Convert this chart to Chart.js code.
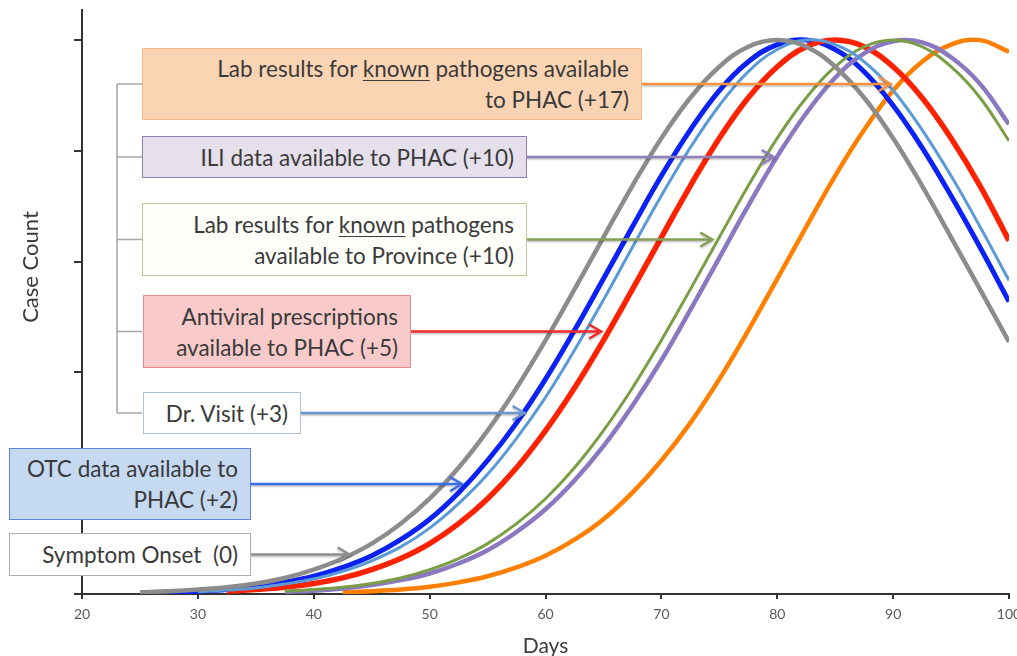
<!DOCTYPE html>
<html>
<head>
<meta charset="utf-8">
<script src="https://cdn.jsdelivr.net/npm/chart.js@4.4.0/dist/chart.umd.min.js"></script>
<style>
html, body { margin: 0; padding: 0; background: #fff; overflow: hidden; }
#wrap { position: relative; width: 1017px; height: 656px; overflow: hidden; }
#holder { position: absolute; left: 0; top: 0; width: 1040px; height: 656px; }
.note {
	position: absolute; box-sizing: border-box;
	display: flex; align-items: center; justify-content: flex-end;
	padding-right: 12px; white-space: nowrap;
	font-family: Lato, "Open Sans", sans-serif; font-size: 22.5px; line-height: 31px; color: #3a3a3a;
	border-style: solid; border-width: 1.5px;
}
.note span { display: block; text-align: right; }
.note u { text-decoration-thickness: 1px; text-underline-offset: 3px; }
#ytitle {
	position: absolute; left: -70px; top: 254px; width: 200px; height: 26px;
	text-align: center; transform: rotate(-90deg);
	font-family: Lato, "Open Sans", sans-serif; font-size: 22px; line-height: 26px; color: #3a3a3a;
}
</style>
</head>
<body>
<div id="wrap">
	<div id="holder"><canvas id="chart"></canvas></div>
	<div id="ytitle">Case Count</div>
</div>
<script>
// days on the x axis (step 2.5)
var days = [25, 27.5, 30, 32.5, 35, 37.5, 40, 42.5, 45, 47.5, 50, 52.5, 55, 57.5, 60, 62.5,
	65, 67.5, 70, 72.5, 75, 77.5, 80, 82.5, 85, 87.5, 90, 92.5, 95, 97.5, 100];
var xTicks = [20, 30, 40, 50, 60, 70, 80, 90, 100];

// case counts (peak = 100)
var onset = [0.3, 0.5, 0.8, 1.2, 1.9, 2.9, 4.4, 6.4, 9.1, 12.7, 17.2, 22.8, 29.5, 37.2, 45.8, 55.0,
	64.4, 73.7, 82.3, 89.6, 95.2, 98.8, 100, 98.8, 95.2, 89.6, 82.3, 73.7, 64.4, 55.0, 45.5];
var otc = [null, 0.3, 0.5, 0.8, 1.3, 2.1, 3.2, 4.8, 6.9, 9.8, 13.5, 18.3, 24.1, 30.9, 38.8, 47.6,
	56.9, 66.3, 75.5, 83.8, 90.9, 96.1, 99.2, 100, 98.3, 94.3, 88.2, 80.6, 71.9, 62.6, 52.8];
var drVisit = [null, null, 0.4, 0.7, 1.1, 1.8, 2.7, 4.1, 6.0, 8.5, 11.9, 16.3, 21.6, 28.1, 35.5, 44.0,
	53.1, 62.6, 71.9, 80.6, 88.2, 94.3, 98.3, 100, 99.2, 96.1, 90.9, 83.8, 75.5, 66.3, 56.6];
var antiviral = [null, null, null, 0.5, 0.8, 1.2, 1.9, 2.9, 4.4, 6.4, 9.1, 12.7, 17.2, 22.8, 29.5, 37.2,
	45.8, 55.0, 64.4, 73.7, 82.3, 89.6, 95.2, 98.8, 100, 98.8, 95.2, 89.6, 82.3, 73.7, 63.8];
var labProvince = [null, null, null, null, null, 0.5, 0.8, 1.2, 1.9, 2.9, 4.4, 6.4, 9.1, 12.7, 17.2, 22.8,
	29.5, 37.2, 45.8, 55.0, 64.4, 73.7, 82.3, 89.6, 95.2, 98.8, 100, 98.8, 95.2, 89.6, 81.8];
var ili = [null, null, null, null, null, 0.4, 0.6, 1.0, 1.6, 2.5, 3.7, 5.5, 7.9, 11.2, 15.3, 20.5,
	26.7, 34.0, 42.2, 51.3, 60.7, 70.1, 79.0, 86.8, 93.2, 97.6, 99.8, 99.6, 96.9, 92.1, 84.8];
var labPhac = [null, null, null, null, null, null, null, 0.3, 0.5, 0.8, 1.3, 2.1, 3.2, 4.8, 6.9, 9.8,
	13.5, 18.3, 24.1, 30.9, 38.8, 47.6, 56.9, 66.3, 75.5, 83.8, 90.9, 96.1, 99.2, 100, 97.9];

// label boxes, arrow tip given as a day on the x axis
var notes = [
	{ html: 'Lab results for <u>known</u> pathogens available<br>to PHAC (+17)', x: 142, y: 48, w: 500, h: 72,
		fill: '#fbd4b4', line: '#f2b58a', arrow: '#f59240', tip: 89.8, bracket: true },
	{ html: 'ILI data available to PHAC (+10)', x: 142, y: 136, w: 385, h: 42,
		fill: '#e5e0ec', line: '#8f80b5', arrow: '#9080bb', tip: 79.7, bracket: true },
	{ html: 'Lab results for <u>known</u> pathogens<br>available to Province (+10)', x: 142, y: 203, w: 385, h: 73,
		fill: '#fefefa', line: '#c9c29c', arrow: '#86a058', tip: 74.4, bracket: true },
	{ html: 'Antiviral prescriptions<br>available to PHAC (+5)', x: 143, y: 295, w: 268, h: 73,
		fill: '#f9caca', line: '#ec8a8a', arrow: '#f22a2a', tip: 64.8, bracket: true },
	{ html: 'Dr. Visit (+3)', x: 143, y: 392, w: 158, h: 42,
		fill: '#ffffff', line: '#a9c0e0', arrow: '#6a95d0', tip: 58.2, bracket: true },
	{ html: 'OTC data available to<br>PHAC (+2)', x: 9, y: 448, w: 242, h: 72,
		fill: '#c5d9f1', line: '#5b84e0', arrow: '#3c6ee6', tip: 52.8 },
	{ html: 'Symptom Onset&nbsp; (0)', x: 9, y: 533, w: 242, h: 43,
		fill: '#ffffff', line: '#b0b0b0', arrow: '#8f8f8f', tip: 43.1 }
];

var wrap = document.getElementById('wrap');
notes.forEach(function(n) {
	var d = document.createElement('div');
	d.className = 'note';
	d.innerHTML = '<span>' + n.html + '</span>';
	d.style.left = n.x + 'px';
	d.style.top = n.y + 'px';
	d.style.width = n.w + 'px';
	d.style.height = n.h + 'px';
	d.style.background = n.fill;
	d.style.borderColor = n.line;
	wrap.appendChild(d);
});

function points(vals) {
	return days.map(function(d, i) { return { x: d, y: vals[i] }; });
}

function series(label, vals, color, width) {
	return {
		label: label,
		data: points(vals),
		borderColor: color,
		borderWidth: width,
		pointRadius: 0,
		tension: 0.4,
		fill: false
	};
}

var notesPlugin = {
	id: 'notes',
	afterDatasetsDraw: function(chart) {
		var ctx = chart.ctx;
		var xs = chart.scales.x;
		ctx.save();
		// bracket joining the upper boxes
		var mids = notes.filter(function(n) { return n.bracket; }).map(function(n) { return n.y + n.h / 2; });
		ctx.strokeStyle = '#a6a6a6';
		ctx.lineWidth = 1.5;
		ctx.beginPath();
		ctx.moveTo(117, mids[0]);
		ctx.lineTo(117, mids[mids.length - 1]);
		mids.forEach(function(m) {
			ctx.moveTo(117, m);
			ctx.lineTo(142, m);
		});
		ctx.stroke();

		// arrows to the curves
		ctx.shadowColor = 'rgba(0,0,0,0.25)';
		ctx.shadowBlur = 2;
		ctx.shadowOffsetY = 1.5;
		ctx.lineWidth = 2.5;
		notes.forEach(function(n) {
			var y = n.y + n.h / 2;
			var x0 = n.x + n.w;
			var x1 = xs.getPixelForValue(n.tip);
			ctx.strokeStyle = n.arrow;
			ctx.beginPath();
			ctx.moveTo(x0, y);
			ctx.lineTo(x1, y);
			ctx.moveTo(x1 - 12, y - 7);
			ctx.lineTo(x1, y);
			ctx.lineTo(x1 - 12, y + 7);
			ctx.stroke();
		});
		ctx.restore();
	}
};

var chart = new Chart(document.getElementById('chart'), {
	type: 'line',
	data: {
		datasets: [
			series('Symptom Onset (0)', onset, '#8c8c8c', 4.5),
			series('Dr. Visit (+3)', drVisit, '#5a9ad8', 3),
			series('Lab results to Province (+10)', labProvince, '#7a9e45', 3),
			series('ILI data (+10)', ili, '#8a78c0', 4.5),
			series('Antiviral prescriptions (+5)', antiviral, '#ff2200', 5.5),
			series('OTC data (+2)', otc, '#0a22f5', 5),
			series('Lab results to PHAC (+17)', labPhac, '#ff8000', 4.5)
		]
	},
	options: {
		responsive: true,
		maintainAspectRatio: false,
		animation: false,
		layout: { padding: { top: 10, right: 31, left: 0, bottom: 0 } },
		plugins: {
			legend: { display: false },
			tooltip: { enabled: false }
		},
		scales: {
			x: {
				type: 'linear',
				min: 20,
				max: 100,
				afterFit: function(s) { s.height = 62; },
				afterBuildTicks: function(s) { s.ticks = xTicks.map(function(v) { return { value: v }; }); },
				grid: { drawOnChartArea: false, drawTicks: true, tickLength: 5, color: '#333', lineWidth: 2 },
				border: { display: true, color: '#333', width: 2 },
				ticks: {
					color: '#595959', padding: 7, maxRotation: 0, autoSkip: false,
					font: { family: 'Lato', size: 14 }
				},
				title: {
					display: true, text: 'Days', color: '#3a3a3a',
					font: { family: 'Lato', size: 21 },
					padding: { top: 0, bottom: -3 }
				}
			},
			y: {
				min: 0,
				max: 105.4,
				afterFit: function(s) { s.width = 82; },
				grid: { drawOnChartArea: false, drawTicks: true, tickLength: 8, color: '#333', lineWidth: 2 },
				border: { display: true, color: '#333', width: 2 },
				ticks: {
					stepSize: 20,
					includeBounds: false,
					callback: function() { return ''; }
				}
			}
		}
	},
	plugins: [notesPlugin]
});
</script>
</body>
</html>
